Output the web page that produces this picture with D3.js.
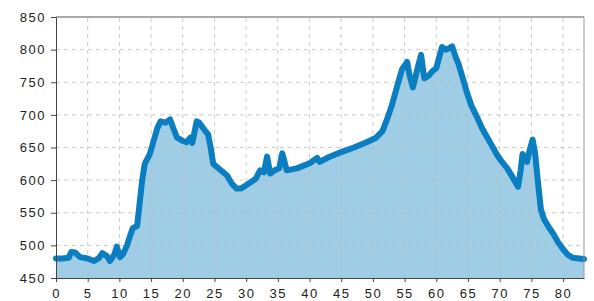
<!DOCTYPE html>
<html>
<head>
<meta charset="utf-8">
<script src="https://cdn.jsdelivr.net/npm/d3@7"></script>
<style>
  body { margin: 0; background: #fff; }
  text { font-family: "Liberation Sans", Arial, sans-serif; }
</style>
</head>
<body>
<div id="viz"></div>
<script>
// distance (km) and elevation (m)
const distance = [0, 1, 2, 2.4, 3, 3.8, 5, 6, 6.7, 7.3, 8, 8.5, 9.2, 9.6, 10.1, 10.6, 11.2, 11.7, 12.1, 12.8,
  13.2, 13.6, 14, 14.8, 15.4, 16, 16.5, 17.3, 18, 18.5, 19.1, 20, 20.6, 21.2, 21.5, 22.2, 22.6, 23.5, 24, 24.4,
  24.8, 26, 27, 27.7, 28.5, 29.2, 30.6, 31.5, 32.2, 32.8, 33.3, 33.8, 34.5, 35.2, 35.7, 36.4, 38, 40, 41.2, 41.6,
  43, 45, 47, 49, 50.5, 51.5, 52.3, 53, 54, 54.6, 55.4, 55.8, 56.3, 57, 57.6, 58.1, 58.8, 59.3, 60, 60.5,
  60.9, 61.5, 62, 62.5, 63, 63.5, 64, 64.8, 65.5, 66.4, 67.2, 68, 68.7, 69.5, 70.2, 71.2, 72, 72.9, 73.3, 73.6,
  74.3, 74.7, 75.2, 75.6, 76, 76.5, 77, 77.8, 78.5, 79.2, 80, 80.7, 81.5, 82.5, 83.3];
const elevation = [480, 480, 481, 490, 489, 482, 480, 476, 480, 488, 484, 476, 486, 498, 482, 487, 500, 515, 526, 530,
  565, 600, 625, 640, 660, 680, 690, 688, 693, 680, 665, 660, 658, 665, 657, 690, 688, 676, 670, 650,
  625, 615, 607, 595, 587, 587, 596, 602, 615, 612, 636, 610, 615, 618, 641, 615, 618, 626, 634, 628,
  635, 643, 650, 658, 665, 675, 695, 715, 750, 770, 781, 760, 742, 770, 792, 756, 760, 766, 772, 790,
  804, 800, 802, 805, 790, 778, 762, 735, 715, 697, 680, 666, 654, 640, 630, 618, 605, 590, 615, 640,
  628, 645, 662, 640, 600, 555, 540, 527, 517, 505, 494, 486, 481, 480, 479];

const xTicks = d3.range(0, 81, 5);
const yTicks = d3.range(450, 851, 50);

const W = 594, H = 301;
const m = { left: 56, right: 10, top: 17, bottom: 23 };

const svg = d3.select("#viz").append("svg")
  .attr("width", W).attr("height", H);

const x = d3.scaleLinear().domain([0, 83.3]).range([m.left, W - m.right]);
const y = d3.scaleLinear().domain([450, 850]).range([H - m.bottom, m.top]);

const pts = distance.map((d, i) => [d, elevation[i]]);

// area fill
svg.append("path")
  .datum(pts)
  .attr("fill", "#9ecde5")
  .attr("d", d3.area().x(d => x(d[0])).y0(y(450)).y1(d => y(d[1])));

// dashed grid
svg.append("g").selectAll("line").data(xTicks.slice(1)).join("line")
  .attr("x1", d => x(d)).attr("x2", d => x(d))
  .attr("y1", y(450)).attr("y2", y(850))
  .attr("stroke", "#bbb").attr("stroke-width", 1).attr("stroke-dasharray", "4,4")
  .attr("opacity", 0.75);
svg.append("g").selectAll("line").data(yTicks.slice(1, -1)).join("line")
  .attr("x1", x(0)).attr("x2", x(83.3))
  .attr("y1", d => y(d)).attr("y2", d => y(d))
  .attr("stroke", "#bbb").attr("stroke-width", 1).attr("stroke-dasharray", "4,4")
  .attr("opacity", 0.75);

// elevation line
svg.append("path")
  .datum(pts)
  .attr("fill", "none")
  .attr("stroke", "#0a7ec0")
  .attr("stroke-width", 6)
  .attr("stroke-linejoin", "round")
  .attr("stroke-linecap", "round")
  .attr("d", d3.line().x(d => x(d[0])).y(d => y(d[1])));

// frame: top and right borders
svg.append("line").attr("x1", x(0)).attr("x2", x(83.3)).attr("y1", y(850)).attr("y2", y(850))
  .attr("stroke", "#555").attr("stroke-width", 1);
svg.append("line").attr("x1", x(83.3)).attr("x2", x(83.3)).attr("y1", y(850)).attr("y2", y(450))
  .attr("stroke", "#999").attr("stroke-width", 1);

// axes
const xAxis = svg.append("g")
  .attr("transform", `translate(0,${y(450)})`)
  .call(d3.axisBottom(x).tickValues(xTicks).tickSize(4).tickPadding(7).tickSizeOuter(0));
const yAxis = svg.append("g")
  .attr("transform", `translate(${x(0)},0)`)
  .call(d3.axisLeft(y).tickValues(yTicks).tickSize(5).tickPadding(5).tickSizeOuter(0));

[xAxis, yAxis].forEach(g => {
  g.select(".domain").attr("stroke", "#444");
  g.selectAll(".tick line").attr("stroke", "#444");
  g.selectAll("text")
    .attr("font-size", 13)
    .attr("fill", "#222")
    .attr("letter-spacing", "1.5px");
});
</script>
</body>
</html>
